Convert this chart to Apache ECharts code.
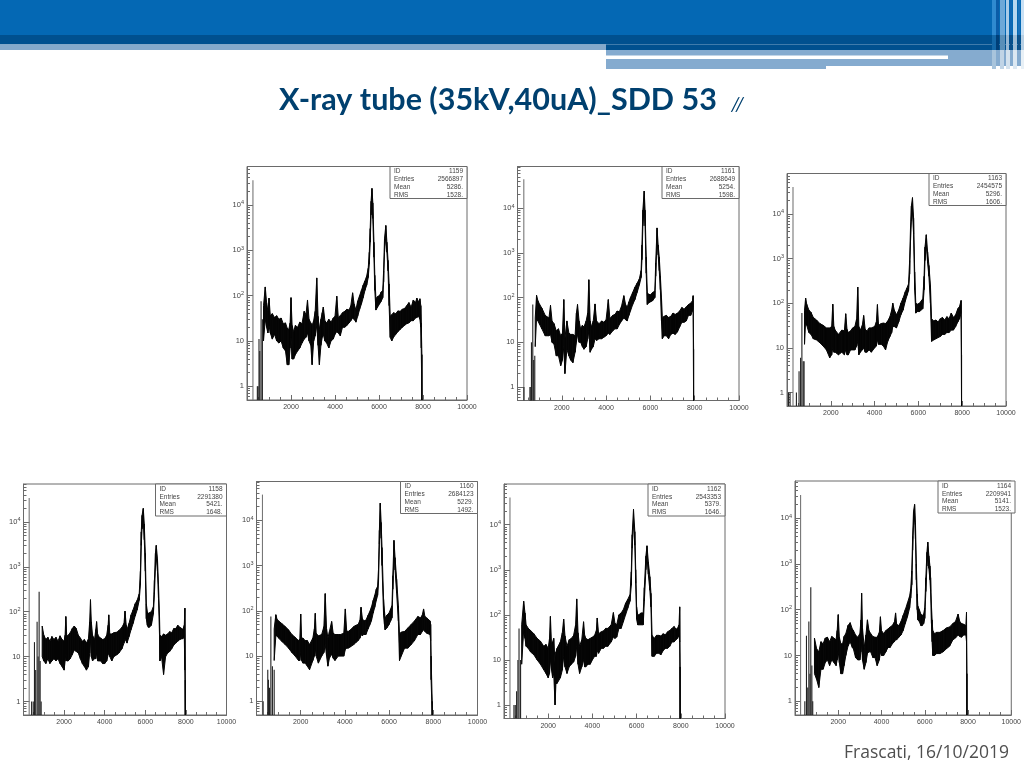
<!DOCTYPE html>
<html><head><meta charset="utf-8">
<style>html,body{margin:0;padding:0;background:#fff}#c{width:1024px;height:768px}</style>
<script src="https://cdn.jsdelivr.net/npm/echarts@6/dist/echarts.min.js"></script>
</head><body><div id="c"></div>
<script>
const xTicks=[2000,4000,6000,8000,10000];
const yTicks=[1,10,100,1000,10000];
const yMinorTicks=[0.6,0.7,0.8,0.9,2,3,4,5,6,7,8,9,20,30,40,50,60,70,80,90,200,300,400,500,600,700,800,900,2000,3000,4000,5000,6000,7000,8000,9000,20000,30000,40000,50000,60000,70000,80000];

const x1159=[750,830,890,950,1000,1060,1150,1250,1350,1450,1550,1650,1750,1830,1900,1960,2000,2050,2120,2200,2300,2400,2500,2600,2680,2750,2820,2900,2960,3030,3100,3170,3230,3290,3360,3420,3470,3540,3620,3720,3820,3920,4000,4080,4150,4240,4340,4440,4540,4640,4720,4800,4870,4950,5030,5120,5200,5280,5360,5440,5510,5560,5600,5640,5680,5720,5770,5810,5860,5930,6020,6100,6170,6210,6250,6310,6360,6410,6460,6510,6580,6660,6760,6860,6960,7060,7160,7260,7360,7460,7560,7660,7720,7800,7860,7900,7920,7950];
const hi1159=[60,155,70,45,88,36,40,33,36,30,32,24,25,19,18,25,90,22,16,22,20,26,24,45,38,80,30,25,22,28,45,245,35,18,30,42,56,28,25,30,26,32,35,97,33,36,42,45,50,48,60,115,65,48,75,100,130,170,210,270,400,900,3000,12000,23000,11000,1500,280,85,95,100,120,130,350,1800,3500,1500,600,180,35,38,42,40,46,45,50,52,60,70,55,80,70,88,72,85,60,25,5];
const lo1159=[10,30,20,15,22,15,11,14,10,9,10,7,6,3,3,7,12,4,4,5,6,7,9,11,12,15,10,8,3,10,13,22,8,3,8,12,14,10,9,7,10,11,14,16,15,13,20,20,22,25,28,32,30,26,35,50,65,90,130,170,250,500,1500,6000,11000,5000,700,130,48,55,65,75,90,200,900,2000,900,350,60,12,10,12,14,16,18,20,22,24,25,28,28,32,33,35,30,20,7,0.5];
const spikeX1159=[270,470,500,545,580,640,700];
const spikeY1159=[35000,1,1,11,6,75,30];

const x1161=[800,860,920,1000,1100,1250,1340,1420,1490,1560,1650,1750,1850,1950,2030,2090,2140,2230,2320,2400,2500,2600,2660,2710,2780,2850,2930,3000,3100,3170,3220,3280,3340,3420,3500,3570,3680,3800,3900,4000,4100,4170,4300,4400,4500,4600,4700,4800,4880,4950,5030,5100,5200,5300,5400,5500,5580,5620,5660,5720,5760,5810,5860,5900,6000,6100,6200,6240,6300,6350,6400,6450,6500,6540,6620,6720,6820,6920,7020,7120,7220,7320,7420,7520,7620,7720,7820,7900,7930,7950];
const hi1161=[35,112,85,70,58,40,37,35,67,30,26,18,20,14,16,90,12,30,16,15,15,14,45,70,30,20,24,22,30,45,250,30,22,30,72,30,26,30,28,32,90,34,40,42,50,48,65,110,70,60,80,100,130,170,210,260,400,1500,9000,24000,9000,800,130,120,115,130,140,600,3600,1500,800,300,100,35,38,40,36,38,45,42,45,50,60,55,62,70,75,85,110,7];
const lo1161=[8,35,30,25,20,14,14,14,15,10,9,5,5,3,4,8,2,7,5,4,3.5,6,10,15,10,10,8,7,8,12,18,6,7,8,12,11,12,12,13,14,16,15,18,20,20,25,30,35,32,30,40,50,70,90,130,190,280,700,4000,12000,4000,350,70,75,80,85,100,300,2000,900,400,150,30,12,14,14,12,15,16,15,17,22,28,28,30,40,40,50,60,0.5];
const spikeX1161=[285,290,560,600,630,690,730,780];
const spikeY1161=[44000,1,1,1,10,70,4,5];

const x1163=[800,850,900,1000,1100,1200,1350,1500,1650,1800,1950,2040,2090,2140,2200,2350,2500,2620,2680,2740,2800,2900,3000,3100,3180,3230,3280,3350,3440,3500,3570,3650,3750,3850,4000,4080,4130,4180,4300,4400,4500,4600,4700,4780,4830,4900,5000,5100,5200,5300,5400,5480,5550,5600,5640,5680,5730,5780,5830,5880,5950,6050,6200,6260,6300,6360,6420,6480,6550,6600,6700,6800,6900,7000,7100,7200,7300,7400,7500,7600,7700,7800,7880,7950,7970];
const hi1163=[70,130,95,70,62,48,42,35,32,28,28,30,95,30,25,20,25,24,58,26,22,24,28,30,45,230,30,25,32,53,26,24,28,28,30,38,93,32,35,36,35,40,50,70,100,70,55,70,100,130,180,220,270,900,5000,15000,23000,8000,500,100,95,100,125,400,1800,3400,1400,700,250,45,40,42,38,45,48,42,50,45,60,48,55,75,85,115,7];
const lo1163=[12,40,32,22,20,16,15,13,11,9,6,7,10,8,8,7,8,7,9,7,7,9,9,9,11,14,7,8,9,10,8,8,9,8,10,11,15,12,12,11,9,14,18,22,30,30,28,38,55,70,110,150,190,450,2500,7000,11000,3500,200,60,65,65,75,200,900,2000,800,400,100,14,15,16,17,18,20,20,22,22,25,25,30,38,45,60,0.5];
const spikeX1163=[70,140,274,430,550,620,680,740,780];
const spikeY1163=[1,1,40000,1,3,6,60,5,5];

const x1158=[920,1000,1100,1200,1300,1400,1500,1600,1700,1800,1900,2000,2050,2085,2130,2200,2300,2400,2500,2600,2700,2800,2900,3000,3100,3200,3260,3300,3340,3400,3500,3560,3600,3650,3700,3800,3900,4000,4100,4170,4200,4250,4350,4450,4600,4700,4850,4950,5000,5060,5100,5200,5300,5400,5500,5600,5700,5760,5800,5840,5900,5950,6000,6050,6100,6150,6200,6300,6400,6450,6500,6540,6600,6650,6700,6720,6800,6900,7000,7100,7200,7300,7400,7500,7600,7700,7800,7850,7920,7950,7970];
const hi1158=[48,30,24,27,22,28,24,27,22,29,24,22,30,78,28,30,34,42,48,42,30,26,22,24,20,25,60,185,60,30,24,40,60,32,28,26,24,25,30,50,85,32,32,34,35,38,45,55,103,50,40,55,85,110,150,180,250,800,6000,14000,20000,9000,2000,150,100,90,95,100,130,500,2000,3000,1500,400,80,30,28,32,30,32,36,34,42,42,50,45,42,40,50,120,3];
const lo1158=[10,8,7,9,7,8,9,8,9,7,6,5,8,12,8,8,9,11,14,13,12,9,7,6,5,6,12,25,10,8,9,9,12,8,8,8,7,7,8,11,15,10,8,10,11,12,15,20,25,22,20,28,40,55,80,110,180,400,3000,7000,10000,4000,800,70,50,45,45,50,90,250,1000,1700,800,200,30,8,10,4,10,12,13,15,18,20,22,24,25,25,28,5,0.5];
const spikeX1158=[280,400,480,540,600,670,720,770,820,870];
const spikeY1158=[34000,1,1,21,5,60,10,280,8,1];

const x1160=[800,875,930,1000,1150,1300,1450,1600,1750,1900,1960,2000,2040,2100,2200,2300,2400,2550,2620,2660,2700,2800,2950,3050,3110,3170,3230,3300,3400,3470,3550,3700,3800,3950,4020,4080,4150,4250,4400,4500,4600,4680,4730,4790,4850,4950,5050,5120,5200,5280,5350,5420,5480,5520,5560,5600,5640,5680,5750,5790,5820,5900,6000,6070,6130,6170,6220,6270,6340,6420,6470,6550,6700,6850,7000,7150,7300,7420,7500,7560,7620,7700,7850,7880,7900,7950];
const hi1160=[40,82,65,60,52,45,38,30,26,22,24,85,25,25,22,22,18,25,40,88,32,28,30,45,240,40,25,35,58,32,30,30,30,32,110,36,35,38,45,48,50,62,120,68,60,62,80,95,120,170,220,300,350,800,6000,24000,9000,2500,180,100,70,80,90,110,130,600,3600,1500,500,130,30,34,35,42,50,60,75,70,80,110,75,70,60,50,10,1];
const lo1160=[8,28,28,25,21,18,15,12,10,8,8,12,8,7,7,6,5,8,10,15,10,7,10,12,18,10,6,9,11,9,8,10,10,10,14,15,15,16,18,20,22,25,30,28,30,30,40,48,60,90,120,170,220,400,3000,11000,4000,1000,80,50,38,42,50,60,70,300,2000,800,250,60,8,10,15,15,18,22,30,30,35,38,35,32,30,22,3,0.5];
const spikeX1160=[270,300,510,540,590,650,720,800];
const spikeY1160=[37000,1,5,3,2,75,6,5];

const x1162=[800,890,950,1000,1100,1200,1350,1500,1650,1800,1900,2000,2060,2100,2150,2200,2250,2310,2350,2400,2550,2640,2700,2760,2850,2950,3050,3150,3240,3290,3350,3420,3520,3600,3650,3700,3800,3900,4000,4100,4180,4220,4280,4400,4500,4600,4700,4850,4950,5020,5100,5200,5300,5400,5500,5600,5700,5760,5800,5860,5920,5960,6000,6050,6100,6200,6300,6350,6420,6470,6530,6600,6650,6700,6800,6900,7000,7100,7200,7300,7400,7500,7600,7700,7780,7850,7920,7950,7970];
const hi1162=[60,200,110,60,50,45,38,30,26,20,22,18,30,92,22,25,30,8,15,18,25,40,80,34,20,28,30,35,60,225,40,20,28,70,35,30,28,30,32,35,45,85,38,42,44,50,50,60,112,65,60,100,110,130,180,220,280,900,6000,22000,7000,1000,150,100,100,110,110,400,2000,3400,1500,700,300,35,30,35,35,34,38,36,42,45,50,55,48,50,60,150,7];
const lo1162=[8,45,30,20,18,15,13,10,8,6,5,4,5,10,6,4,5,1,3,3,4,6,12,7,5,7,8,9,12,20,8,5,7,10,7,7,8,8,10,12,12,16,14,18,18,20,20,25,32,30,32,50,50,70,100,140,200,450,3000,11000,3500,500,80,60,60,60,60,200,1000,2000,800,350,150,12,12,14,14,13,16,18,18,20,25,25,28,30,35,25,0.5];
const spikeX1162=[270,450,510,570,630,680,750];
const spikeY1162=[40000,1,1,2,10,50,10];

const x1164=[900,1000,1100,1200,1300,1400,1500,1600,1700,1800,1900,1950,2000,2050,2120,2200,2270,2350,2450,2550,2650,2700,2800,2900,3000,3050,3080,3120,3200,3280,3350,3420,3500,3600,3700,3800,3900,3950,4000,4100,4200,4300,4400,4500,4600,4650,4700,4800,4900,5000,5100,5200,5300,5350,5400,5440,5480,5530,5570,5610,5650,5680,5750,5820,5880,5950,6000,6050,6100,6140,6190,6240,6270,6310,6340,6370,6450,6550,6700,6850,7000,7150,7300,7420,7540,7620,7700,7800,7900,7930,7950];
const hi1164=[24,14,12,20,18,24,25,20,26,24,22,35,78,25,18,18,26,30,45,52,38,35,28,25,30,60,230,40,15,28,60,35,30,26,25,25,32,70,35,30,35,38,42,45,55,85,48,45,55,75,100,140,200,280,700,4000,14000,20000,8000,1000,220,120,100,80,75,80,110,500,1800,3000,1500,900,500,120,60,35,30,32,32,35,40,42,50,55,80,55,50,48,45,88,4];
const lo1164=[4,3,2,5,5,7,8,6,8,7,6,8,12,7,4,4,6,10,16,20,15,14,9,8,8,12,20,8,5,7,11,12,12,9,9,6,8,12,10,10,12,15,15,18,20,22,22,25,28,35,50,70,110,180,350,2000,7000,10000,3500,450,100,60,55,45,45,50,65,250,900,1700,800,450,250,50,20,10,10,11,11,12,14,16,22,24,28,26,25,28,28,20,0.5];
const spikeX1164=[258,455,530,590,640,690,730,780,820];
const spikeY1164=[32000,1,27,2,55,4,310,6,1];

const panels=[
 {id:1159,entries:2566897,mean:'5286.',rms:'1528.',x:x1159,hi:hi1159,lo:lo1159,sx:spikeX1159,sy:spikeY1159,box:[247,166.5,220,233.5],max:7e4,bw:77},
 {id:1161,entries:2688649,mean:'5254.',rms:'1598.',x:x1161,hi:hi1161,lo:lo1161,sx:spikeX1161,sy:spikeY1161,box:[517.5,166.5,221.5,234],max:8.5e4,bw:77},
 {id:1163,entries:2454575,mean:'5296.',rms:'1606.',x:x1163,hi:hi1163,lo:lo1163,sx:spikeX1163,sy:spikeY1163,box:[787,173.5,219,232.5],max:8e4,bw:77},
 {id:1158,entries:2291380,mean:'5421.',rms:'1648.',x:x1158,hi:hi1158,lo:lo1158,sx:spikeX1158,sy:spikeY1158,box:[23.5,484,203,231],max:7e4,bw:71},
 {id:1160,entries:2684123,mean:'5229.',rms:'1492.',x:x1160,hi:hi1160,lo:lo1160,sx:spikeX1160,sy:spikeY1160,box:[256.5,481.5,221,233.5],max:7.2e4,bw:77},
 {id:1162,entries:2543353,mean:'5379.',rms:'1646.',x:x1162,hi:hi1162,lo:lo1162,sx:spikeX1162,sy:spikeY1162,box:[504,484,221,234.5],max:8e4,bw:77},
 {id:1164,entries:2209941,mean:'5141.',rms:'1523.',x:x1164,hi:hi1164,lo:lo1164,sx:spikeX1164,sy:spikeY1164,box:[795,481,220,234],max:6.5e4,bw:77}
];
const gray='#6a6a6a', txt='#444444';
const grid=[],xAxis=[],yAxis=[],series=[],graphic=[];

function rect(x,y,w,h,c){return {type:'rect',silent:true,shape:{x,y,width:w,height:h},style:{fill:c}};}
graphic.push(rect(0,0,1024,35,'#0468B4'),rect(0,35,1024,9.5,'#00508F'),rect(0,44.5,606,5.5,'#85A9CB'),rect(606,44.5,418,5.5,'#00508F'),
 rect(606,50,220,19,'#85ABCF'),rect(826,50,198,16,'#85ABCF'),rect(606,55.5,342,3.5,'#ffffff'));
[[992,4,'#2f8ad0',35],[996,3,'#0a5ca8',35],[1000,5,'#6ca8d8',35],[1006,3,'#a8cbe8',35],[1010,2,'#0f66b4',35],[1013,4,'#b8d6f0',35],[1018,2,'#1a6fba',35],[1021,3,'#c8e0f4',35],
 [992,4,'#1468a8',15],[996,3,'#003f78',15],[1000,5,'#5a8fb8',15],[1006,3,'#98b8d4',15],[1010,2,'#0a4c88',15],[1013,4,'#a0bcd6',15],[1018,2,'#104f88',15],[1021,3,'#b8d0e4',15]].forEach((s,i)=>{
 graphic.push(rect(s[0],i<8?0:35,s[1],s[3],s[2]));});
[[992,'#a8c4dc'],[1000,'#c0d4e6'],[1006,'#d4e2ee'],[1013,'#dce8f2'],[1021,'#e8f0f6']].forEach(s=>graphic.push(rect(s[0],50,s[0]===1021?3:4,19,s[1])));
graphic.push({type:'text',silent:true,left:731,top:95,style:{text:'//',font:'italic 20px Lato',fill:'#00406F'}});
graphic.push({type:'text',silent:true,left:844,top:744,style:{text:'Frascati, 16/10/2019',font:'17.5px "Open Sans"',fill:'#4f4f4f'}});

panels.forEach((p,i)=>{
 const [l,t,w,h]=p.box;
 grid.push({left:l,top:t,width:w,height:h,show:true,borderColor:gray,borderWidth:1,backgroundColor:'transparent',containLabel:false});
 xAxis.push({type:'value',gridIndex:i,min:0,max:10000,interval:2000,position:'bottom',
  axisLine:{lineStyle:{color:gray}},splitLine:{show:false},minorSplitLine:{show:false},
  axisTick:{inside:true,length:5,lineStyle:{color:gray}},
  minorTick:{show:true,splitNumber:4,length:3,lineStyle:{color:gray}},
  axisLabel:{customValues:xTicks,formatter:v=>String(v),fontSize:7,color:txt,margin:4,fontFamily:'Liberation Sans'}});
 const lab=v=>{const n=Math.round(Math.log10(v));return n<2?String(Math.round(v)):'10{s|'+n+'}';};
 yAxis.push({type:'log',logBase:10,gridIndex:i,min:0.5,max:p.max,position:'left',
  axisLine:{show:true,lineStyle:{color:gray}},splitLine:{show:false},minorSplitLine:{show:false},
  axisTick:{show:true,inside:true,length:6,customValues:yTicks,lineStyle:{color:gray}},
  axisLabel:{customValues:yTicks,formatter:lab,fontSize:7.5,color:txt,margin:3,fontFamily:'Liberation Sans',
   rich:{s:{fontSize:5.5,color:txt,verticalAlign:'top',lineHeight:10,fontFamily:'Liberation Sans'}}}});
 yAxis.push({type:'log',logBase:10,gridIndex:i,min:0.5,max:p.max,position:'left',
  axisLine:{show:false},splitLine:{show:false},minorSplitLine:{show:false},
  axisTick:{show:true,inside:true,length:3,customValues:yMinorTicks,lineStyle:{color:gray}},
  axisLabel:{show:false}});
 const rows=p.x.map((v,k)=>[v,p.hi[k],p.lo[k],p.x[k+1]??v,p.hi[k+1]??p.hi[k],p.lo[k+1]??p.lo[k]]);
 series.push({type:'custom',xAxisIndex:i,yAxisIndex:i*2,data:rows,silent:true,encode:{x:0,y:1},
  renderItem:(params,api)=>{
   const a=api.coord([api.value(0),api.value(1)]),b=api.coord([api.value(3),api.value(4)]),
         c=api.coord([api.value(3),api.value(5)]),d=api.coord([api.value(0),api.value(2)]);
   return {type:'polygon',shape:{points:[a,b,c,d]},style:{fill:'#050505',stroke:'#050505',lineWidth:1}};
  }});
 const spikes=p.sx.map((v,k)=>[v,p.sy[k]]);
 series.push({type:'custom',xAxisIndex:i,yAxisIndex:i*2,data:spikes,silent:true,encode:{x:0,y:1},
  renderItem:(params,api)=>{
   const a=api.coord([api.value(0),api.value(1)]),b=api.coord([api.value(0),0.5]);
   return {type:'line',shape:{x1:a[0],y1:a[1],x2:b[0],y2:b[1]},style:{stroke:api.value(1)>1000?'#777777':'#222222',lineWidth:1.1}};
  }});
 const bx=l+w-p.bw,bh=32;
 graphic.push({type:'rect',silent:true,z:10,shape:{x:bx,y:t,width:p.bw,height:bh},style:{fill:'#fff',stroke:gray,lineWidth:1}});
 [['ID',p.id],['Entries',p.entries],['Mean',p.mean],['RMS',p.rms]].forEach((r,k)=>{
  const y=t+1.5+k*7.8;
  graphic.push({type:'text',silent:true,z:11,x:bx+4,y:y,style:{text:r[0],font:'6.5px "Liberation Sans"',fill:txt,textBaseline:'top'}});
  graphic.push({type:'text',silent:true,z:11,x:l+w-4,y:y,style:{text:String(r[1]),font:'6.5px "Liberation Sans"',fill:txt,textAlign:'right',textBaseline:'top'}});
 });
});

const chart=echarts.init(document.getElementById('c'),null,{renderer:'canvas',width:1024,height:768});
chart.setOption({animation:false,backgroundColor:'#fff',
 title:{text:'X-ray tube (35kV,40uA)_SDD 53',left:274,top:80,textStyle:{fontFamily:'Lato',fontWeight:'bold',fontSize:30.5,color:'#00406F'}},
 grid,xAxis,yAxis,series,graphic});
</script></body></html>
